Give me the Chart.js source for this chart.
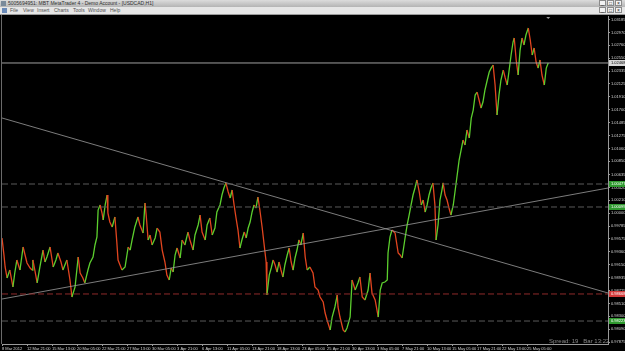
<!DOCTYPE html>
<html>
<head>
<meta charset="utf-8">
<script src="https://cdn.jsdelivr.net/npm/chart.js@4/dist/chart.umd.min.js"></script>
<style>
  html,body{margin:0;padding:0;background:#000;}
  body{width:625px;height:351px;overflow:hidden;position:relative;font-family:"Liberation Sans",Arial,sans-serif;}
  #title{position:absolute;left:0;top:0;width:625px;height:7px;background:linear-gradient(#dcdcdc,#b4b4b4);}
  #title span{position:absolute;left:8px;top:0;font-size:5px;line-height:7px;color:#303030;white-space:nowrap;}
  #menu{position:absolute;left:0;top:7px;width:625px;height:8px;background:#e6e6e6;border-bottom:1px solid #9a9a9a;box-sizing:border-box;}
  #menu span{position:absolute;top:0;font-size:5px;line-height:7px;color:#505050;}
  .btns{position:absolute;right:3px;height:6px;display:flex;gap:1px;}
  .btns b{display:block;width:7px;height:6px;background:#f2f2f2;border:1px solid #8a8a8a;box-sizing:border-box;font-size:5px;line-height:4px;text-align:center;color:#222;font-weight:normal;}
  .icon{position:absolute;width:5px;height:5px;background:#6a8ab8;}
  #box{position:absolute;left:0;top:15px;width:625px;height:336px;}
  #leftedge{position:absolute;left:1px;top:15px;width:1px;height:329px;background:#6a6a6a;}
  #spread{position:absolute;left:549px;top:338px;font-size:6px;line-height:6px;color:#8a8a8a;white-space:nowrap;}
</style>
</head>
<body>
<div id="title"><div class="icon" style="left:1px;top:1px;background:#7a8a9a"></div><span>5005694951: MBT MetaTrader 4 - Demo Account - [USDCAD,H1]</span>
  <div class="btns" style="top:0px"><b>_</b><b>□</b><b>×</b></div></div>
<div id="menu"><div class="icon" style="left:2px;top:1px"></div>
  <span style="left:10px">File</span><span style="left:23px">View</span><span style="left:37px">Insert</span><span style="left:54px">Charts</span><span style="left:73px">Tools</span><span style="left:88px">Window</span><span style="left:110px">Help</span>
  <div class="btns" style="top:0px"><b>_</b><b>□</b><b>×</b></div></div>
<div id="box"><canvas id="c" width="625" height="336"></canvas></div>
<div id="leftedge"></div>
<div id="spread">Spread: 19&nbsp;&nbsp;&nbsp;Bar 13:22</div>
<script>
// ---- data (hours since 8 Mar 2012 00:00, H1 bars, USDCAD) ----
const timeLabels = ["8 Mar 2012","12 Mar 21:00","15 Mar 13:00","20 Mar 05:00","22 Mar 21:00","27 Mar 13:00","30 Mar 05:00","3 Apr 21:00","6 Apr 13:00","11 Apr 05:00","13 Apr 21:00","18 Apr 13:00","23 Apr 05:00","25 Apr 21:00","30 Apr 13:00","3 May 05:00","7 May 21:00","10 May 13:00","15 May 05:00","17 May 21:00","22 May 13:00","25 May 05:00"];
const labelStepHours = 64;
const yTickValues = [0.97875,0.98090,0.98300,0.98510,0.98725,0.98935,0.99150,0.99360,0.99575,0.99785,1.00000,1.00210,1.00420,1.00635,1.00850,1.01060,1.01275,1.01485,1.01700,1.01910,1.02125,1.02335,1.02550,1.02760,1.02970,1.03185];
const barHours = [0,5,8,13,20,28,33,38,46,54,59,64,72,77,79,84,90,97,105,110,115,123,131,138,143,151,156,166,174,179,187,195,200,207,212,220,225,233,238,243,246,251,256,259,264,269,271,276,282,289,294,297,302,307,315,323,328,333,340,348,353,361,366,369,374,379,384,392,397,404,410,417,422,428,433,438,443,448,456,461,468,476,481,489,494,502,507,512,520,525,532,538,545,550,558,563,568,573,579,584,589,594,599,604,609,614,620,625,630,635,640,645,650,655,660,666,671,676,678,684,689,694,699,704,709,714,719,724,730,735,740,745,750,755,760,765,771,776,781,788,796,801,809,814,822,827,832,840,845,852,858,860,865,873,878,883,891,896,904,911,916,922,929,937,942,947,955,963,968,973,980,986,988,993,998,1006,1014,1019,1024,1032,1037,1042,1047,1052,1057,1062,1068,1073,1078,1083,1088,1093,1098,1103,1108,1111,1116,1121,1126,1129,1134,1139,1144,1149,1155,1160,1165,1170,1175,1180,1185,1190,1196,1201,1206,1211,1216,1221,1226,1231,1236,1242,1247,1252,1257,1262,1267,1272,1277,1283,1288,1293,1298,1303,1308,1311,1316,1321,1326,1331,1336,1341,1347,1352,1357,1362,1367,1372,1377,1382,1388,1393,1398];
const closePrices = [0.99589,0.99309,0.99112,0.98931,0.99062,0.98783,0.99029,0.99227,0.99062,0.99441,0.99309,0.99178,0.99095,0.99062,0.99227,0.99062,0.98849,0.99112,0.99391,0.99194,0.99276,0.99441,0.99112,0.99227,0.99342,0.99194,0.99062,0.99227,0.98898,0.98618,0.98783,0.99276,0.99013,0.98931,0.98849,0.99062,0.99178,0.99276,0.99474,0.99605,1.00049,1.00132,1.00000,0.99885,1.00132,1.00296,1.00000,0.99852,0.99770,0.99934,0.99507,0.99227,0.99145,0.99062,0.99112,0.99441,0.99391,0.99556,0.99770,0.99934,0.99803,0.99671,1.00165,0.99967,0.99556,0.99638,0.99474,0.99589,0.99753,0.99687,0.99391,0.99194,0.98980,0.98898,0.99095,0.99029,0.99309,0.99424,0.99260,0.99556,0.99474,0.99687,0.99556,0.99391,0.99638,0.99803,0.99967,0.99687,0.99556,0.99803,0.99918,0.99638,0.99753,1.00016,1.00132,1.00296,1.00411,1.00494,1.00345,1.00247,1.00378,1.00132,0.99918,0.99720,0.99424,0.99556,0.99687,0.99589,0.99753,0.99852,1.00016,1.00132,1.00082,1.00263,1.00049,0.99753,0.99474,0.99194,0.98651,0.98980,0.99095,0.99227,0.99145,0.99029,0.99194,0.99062,0.98947,0.99145,0.99309,0.99424,0.99194,0.99062,0.99260,0.99391,0.99556,0.99474,0.99671,0.99276,0.99062,0.99112,0.99013,0.98783,0.98733,0.98618,0.98536,0.98355,0.98240,0.98075,0.98289,0.98454,0.98651,0.98454,0.98289,0.98075,0.98042,0.98108,0.98289,0.98898,0.98733,0.98849,0.98947,0.98618,0.98569,0.98733,0.99013,0.98684,0.98569,0.98289,0.98733,0.98849,0.98865,0.98898,0.99342,0.99605,0.99720,0.99671,0.99342,0.99309,0.99260,0.99605,0.99803,0.99967,1.00132,1.00296,1.00411,1.00543,1.00345,1.00132,1.00214,1.00016,1.00132,1.00296,1.00411,1.00494,1.00132,0.99556,0.99803,1.00214,1.00378,1.00494,1.00296,1.00214,1.00082,0.99967,1.00132,1.00378,1.00625,1.00872,1.01036,1.01201,1.01119,1.01365,1.01234,1.01563,1.01694,1.01941,1.01990,1.01859,1.01727,1.01826,1.02023,1.02188,1.02319,1.02385,1.02435,1.02106,1.01612,1.01941,1.02188,1.02352,1.02221,1.02106,1.02352,1.02599,1.02813,1.02879,1.02517,1.02270,1.02681,1.02879,1.02764,1.02928,1.03043,1.02846,1.02599,1.02714,1.02484,1.02385,1.02517,1.02270,1.02106,1.02385,1.02468];
const bidPrice = 1.02468;
const levelPrices = [1.00477, 1.00099, 0.98668, 0.98223];
const levelKinds = ["green","green","red","green"];
const trendHours = [0, 1551];
const trendDown = [1.01563, 0.98684];
const trendUp = [0.98585, 1.00411];
const xMin = 0, xMax = 1551, yMin = 0.97845, yMax = 1.03241;

// ---- styles ----
const UP = '#5ccf2e', DOWN = '#e2451f';
const AXIS = '#9a9a9a', TXT = '#d4d4d4';
const levelLine = {green:'#5a5a5a', red:'#8e2a2a'};
const levelBg = {green:'#2f9a2f', red:'#d23a3a'};

const priceData = barHours.map((h,i)=>({x:h,y:closePrices[i]}));
const hline = v => [{x:xMin,y:v},{x:xMax,y:v}];
const datasets = [];
levelPrices.forEach((v,i)=>datasets.push({data:hline(v), borderColor:levelLine[levelKinds[i]], borderWidth:1, borderDash:[6,3], pointRadius:0}));
datasets.push({data:hline(bidPrice), borderColor:'#a0a0a0', borderWidth:1, pointRadius:0});
datasets.push({data:trendHours.map((h,i)=>({x:h,y:trendDown[i]})), borderColor:'#9c9c9c', borderWidth:0.8, pointRadius:0});
datasets.push({data:trendHours.map((h,i)=>({x:h,y:trendUp[i]})), borderColor:'#9c9c9c', borderWidth:0.8, pointRadius:0});
datasets.push({data:priceData, borderWidth:1.3, pointRadius:0, borderColor:UP,
  segment:{borderColor:c=> c.p1.parsed.y >= c.p0.parsed.y ? UP : DOWN}});

const labelPlugin = {
  id:'priceLabels',
  afterDraw(chart){
    const ctx = chart.ctx, ys = chart.scales.y;
    ctx.save();
    ctx.font = '4px "Liberation Sans", Arial';
    ctx.textBaseline = 'middle';
    const draw = (v,bg,fg)=>{
      const y = ys.getPixelForValue(v);
      ctx.fillStyle = bg; ctx.fillRect(ys.left+1, Math.round(y)-3, 16, 6);
      ctx.fillStyle = fg; ctx.fillText(v.toFixed(5), ys.left+3, y);
    };
    levelPrices.forEach((v,i)=>draw(v, levelBg[levelKinds[i]], '#ffffff'));
    draw(bidPrice, '#d8d8d8', '#000000');
    const xs = chart.scales.x;
    const mx = xs.getPixelForValue(barHours[barHours.length-1]);
    ctx.fillStyle = '#9a9a9a';
    ctx.beginPath(); ctx.moveTo(mx-2, chart.chartArea.top+1); ctx.lineTo(mx+2, chart.chartArea.top+1); ctx.lineTo(mx, chart.chartArea.top+3); ctx.fill();
    ctx.restore();
  }
};

new Chart(document.getElementById('c'), {
  type:'line',
  data:{datasets},
  plugins:[labelPlugin],
  options:{
    responsive:false, animation:false, devicePixelRatio:1,
    layout:{padding:{top:1,left:2,right:0,bottom:0}},
    plugins:{legend:{display:false}, tooltip:{enabled:false}},
    scales:{
      x:{type:'linear', min:xMin, max:xMax, position:'bottom',
        afterBuildTicks:s=>{ s.ticks = timeLabels.map((t,i)=>({value:i*labelStepHours})); },
        afterFit:s=>{ s.height = 7; s.paddingLeft = 0; s.paddingRight = 0; },
        ticks:{callback:(v,i)=>timeLabels[i], autoSkip:false, maxRotation:0, minRotation:0, align:'start', padding:0,
          font:{size:4, family:'"Liberation Sans", Arial'}, color:TXT},
        grid:{drawOnChartArea:false, drawTicks:true, tickLength:2, color:AXIS},
        border:{display:true, color:AXIS}},
      y:{type:'linear', position:'right', min:yMin, max:yMax,
        afterBuildTicks:s=>{ s.ticks = yTickValues.map(v=>({value:v})); },
        afterFit:s=>{ s.width = 17; s.paddingTop = 0; s.paddingBottom = 0; },
        ticks:{callback:v=>v.toFixed(5), autoSkip:false, padding:1,
          font:{size:4, family:'"Liberation Sans", Arial'}, color:TXT},
        grid:{drawOnChartArea:false, drawTicks:true, tickLength:2, color:AXIS},
        border:{display:true, color:AXIS}}
    }
  }
});
</script>
</body>
</html>
